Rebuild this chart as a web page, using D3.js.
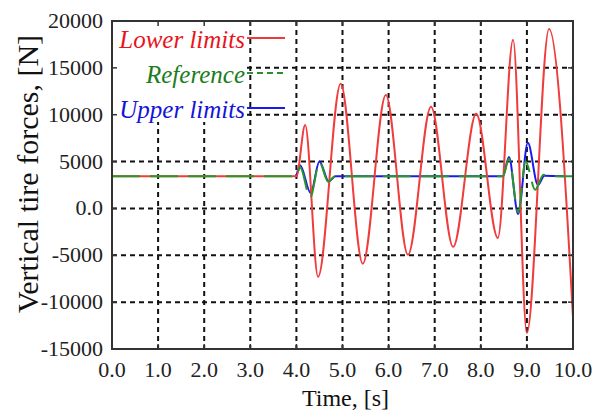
<!DOCTYPE html>
<html>
<head>
<meta charset="utf-8">
<script src="https://cdn.jsdelivr.net/npm/d3@7"></script>
<style>
  html, body { margin: 0; padding: 0; background: #fff; }
  svg { display: block; }
</style>
</head>
<body>
<svg id="chart" width="602" height="413"></svg>
<script>
// Vertical tire force limits over time
const lowerTime  = [0, 4.0, 4.19, 4.47, 4.96, 5.44, 5.94, 6.42, 6.92, 7.40, 7.90, 8.37, 8.70, 9.00, 9.48, 10.0];
const lowerForce = [3430, 3430, 8900, -7300, 13300, -5900, 12100, -4950, 10850, -4100, 10100, -3150, 18000, -13300, 19150, -11600];

const refTime  = [0, 4.0, 4.08, 4.30, 4.50, 4.69, 4.84, 8.48, 8.61, 8.81, 8.97, 9.18, 9.36, 9.50, 10.0];
const refForce = [3430, 3430, 4400, 1150, 4900, 2850, 3430, 3430, 5300, -400, 5000, 2000, 3600, 3430, 3430];

const upperTime  = [4.0, 4.08, 4.31, 4.50, 4.70, 4.85, 8.48, 8.61, 8.81, 9.02, 9.24, 9.38, 9.80];
const upperForce = [3430, 4600, 1650, 5000, 2900, 3430, 3430, 5500, -600, 7000, 2500, 3500, 3430];

const xTicks = [0, 1, 2, 3, 4, 5, 6, 7, 8, 9, 10];
const yTicks = [20000, 15000, 10000, 5000, 0, -5000, -10000, -15000];

const legendItems = [
  { label: "Lower limits", color: "#e8141c", line: "#ee3a3a", dash: null },
  { label: "Reference",    color: "#1b7d1b", line: "#2a8f2a", dash: "6,4" },
  { label: "Upper limits", color: "#1414d8", line: "#1a1aee", dash: null }
];

const svg = d3.select("#chart");
const plotL = 112, plotR = 573, plotT = 21, plotB = 349;

const x = d3.scaleLinear().domain([0, 10]).range([plotL, plotR]);
const y = d3.scaleLinear().domain([-15000, 20000]).range([plotB, plotT]);

const serif = "'Liberation Serif', 'Times New Roman', serif";

// Dashed grid
const grid = svg.append("g").attr("stroke", "#111").attr("stroke-width", 2).attr("stroke-dasharray", "5,4");
grid.selectAll("line.v").data(xTicks.filter(d => d > 0 && d < 10)).join("line").attr("class", "v")
  .attr("x1", d => x(d)).attr("x2", d => x(d)).attr("y1", plotT).attr("y2", plotB);
grid.selectAll("line.h").data(yTicks.filter(d => d > -15000 && d < 20000)).join("line").attr("class", "h")
  .attr("y1", d => y(d)).attr("y2", d => y(d)).attr("x1", plotL).attr("x2", plotR);

// Legend background
svg.append("rect").attr("x", plotL + 1).attr("y", plotT + 1).attr("width", 134).attr("height", 100).attr("fill", "#fff");

// Series
const line = d3.line().x(d => x(d[0])).y(d => y(d[1])).curve(d3.curveMonotoneX);
const zip = (a, b) => a.map((t, i) => [t, b[i]]);

svg.append("path").datum(zip(upperTime, upperForce)).attr("d", line)
  .attr("fill", "none").attr("stroke", "#1a1aee").attr("stroke-width", 2);
svg.append("path").datum(zip(lowerTime, lowerForce)).attr("d", line)
  .attr("fill", "none").attr("stroke", "#f03c3c").attr("stroke-width", 2);
svg.append("path").datum(zip(refTime, refForce)).attr("d", line)
  .attr("fill", "none").attr("stroke", "#2a962a").attr("stroke-width", 2)
  .attr("stroke-dasharray", "28,10");

// Inner ticks on all sides
const ticks = svg.append("g").attr("stroke", "#333").attr("stroke-width", 1.5);
xTicks.forEach(d => {
  ticks.append("line").attr("x1", x(d)).attr("x2", x(d)).attr("y1", plotT).attr("y2", plotT + 5);
  ticks.append("line").attr("x1", x(d)).attr("x2", x(d)).attr("y1", plotB).attr("y2", plotB - 5);
});
yTicks.forEach(d => {
  ticks.append("line").attr("x1", plotL).attr("x2", plotL + 5).attr("y1", y(d)).attr("y2", y(d));
  ticks.append("line").attr("x1", plotR).attr("x2", plotR - 5).attr("y1", y(d)).attr("y2", y(d));
});

// Frame
svg.append("rect").attr("x", plotL).attr("y", plotT).attr("width", plotR - plotL).attr("height", plotB - plotT)
  .attr("fill", "none").attr("stroke", "#333").attr("stroke-width", 2);

// Tick labels
svg.append("g").selectAll("text").data(xTicks).join("text")
  .attr("x", d => x(d)).attr("y", 377).attr("text-anchor", "middle")
  .attr("font-family", serif).attr("font-size", 22).attr("fill", "#222")
  .text(d => d.toFixed(1));
svg.append("g").selectAll("text").data(yTicks).join("text")
  .attr("x", 103).attr("y", d => y(d) + 7).attr("text-anchor", "end")
  .attr("font-family", serif).attr("font-size", 22).attr("fill", "#222")
  .text(d => d === 0 ? "0.0" : String(d));

// Axis titles
svg.append("text").attr("x", (plotL + plotR) / 2 + 3).attr("y", 406).attr("text-anchor", "middle")
  .attr("font-family", serif).attr("font-size", 24).attr("fill", "#111").text("Time, [s]");
svg.append("text").attr("transform", "translate(38,174) rotate(-90)").attr("text-anchor", "middle")
  .attr("font-family", serif).attr("font-size", 30).attr("fill", "#111").text("Vertical tire forces, [N]");

// Legend
legendItems.forEach((item, i) => {
  const by = 48 + i * 35;
  svg.append("text").attr("x", 245).attr("y", by).attr("text-anchor", "end")
    .attr("font-family", serif).attr("font-style", "italic").attr("font-size", 25)
    .attr("fill", item.color).text(item.label);
  svg.append("line").attr("x1", 247).attr("x2", 285).attr("y1", by - 10).attr("y2", by - 10)
    .attr("stroke", item.line).attr("stroke-width", 2)
    .attr("stroke-dasharray", item.dash);
});
</script>
</body>
</html>
